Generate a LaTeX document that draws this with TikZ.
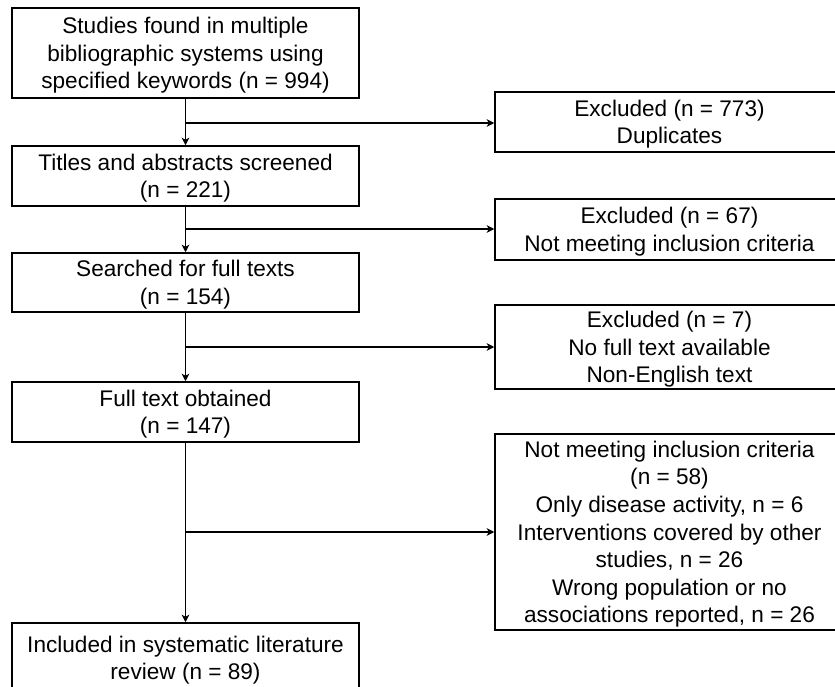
\documentclass[tikz,border=0pt]{standalone}
\usepackage{fontspec}
\setmainfont{Liberation Sans}
\usetikzlibrary{shapes,arrows.meta}

\begin{document}
\begin{tikzpicture}[x=1pt, y=-1pt, line width=1.5pt, >={Stealth[length=7.5pt, width=7.5pt, inset=2pt]},
  every node/.style={draw, rectangle, align=center, inner sep=0pt, text depth=-5pt,
    font=\fontsize{22.6}{27.6}\selectfont},
  stagebox/.style={minimum width=347pt},
  exclbox/.style={minimum width=349pt}]
  \clip (0,0) rectangle (835,687);

  % Main Stages
  \node[stagebox, minimum height=90pt] (found) at (185.5, 53) {Studies found in multiple\\bibliographic systems using\\specified keywords (n = 994)};
  \node[stagebox, minimum height=60pt] (screened) at (185.5, 176) {Titles and abstracts screened\\(n = 221)};
  \node[stagebox, minimum height=59pt] (searched) at (185.5, 282.5) {Searched for full texts\\(n = 154)};
  \node[stagebox, minimum height=60pt] (obtained) at (185.5, 412) {Full text obtained\\(n = 147)};
  \node[stagebox, minimum height=82pt, text depth=12pt] (included) at (185.5, 664) {Included in systematic literature\\review (n = 89)};

  % Excluded
  \node[exclbox, minimum height=60pt] (excl1) at (669.5, 122) {Excluded (n = 773)\\Duplicates};
  \node[exclbox, minimum height=61pt] (excl2) at (669.5, 229.5) {Excluded (n = 67)\\Not meeting inclusion criteria};
  \node[exclbox, minimum height=84pt] (excl3) at (669.5, 347) {Excluded (n = 7)\\No full text available\\Non-English text};
  \node[exclbox, minimum height=196pt] (excl4) at (669.5, 532) {Not meeting inclusion criteria\\(n = 58)\\Only disease activity, n = 6\\Interventions covered by other\\studies, n = 26\\Wrong population or no\\associations reported, n = 26};

  % Branch Points
  \coordinate (split1) at (185.5, 123);
  \coordinate (split2) at (185.5, 229);
  \coordinate (split3) at (185.5, 347);
  \coordinate (split4) at (185.5, 532);

  % Arrows
  \draw[->] (found) -- (screened);
  \draw[->] (screened) -- (searched);
  \draw[->] (searched) -- (obtained);
  \draw[->] (obtained) -- (included);

  \draw[->] (split1) -- (split1 -| excl1.west);
  \draw[->] (split2) -- (split2 -| excl2.west);
  \draw[->] (split3) -- (split3 -| excl3.west);
  \draw[->] (split4) -- (split4 -| excl4.west);
\end{tikzpicture}
\end{document}
